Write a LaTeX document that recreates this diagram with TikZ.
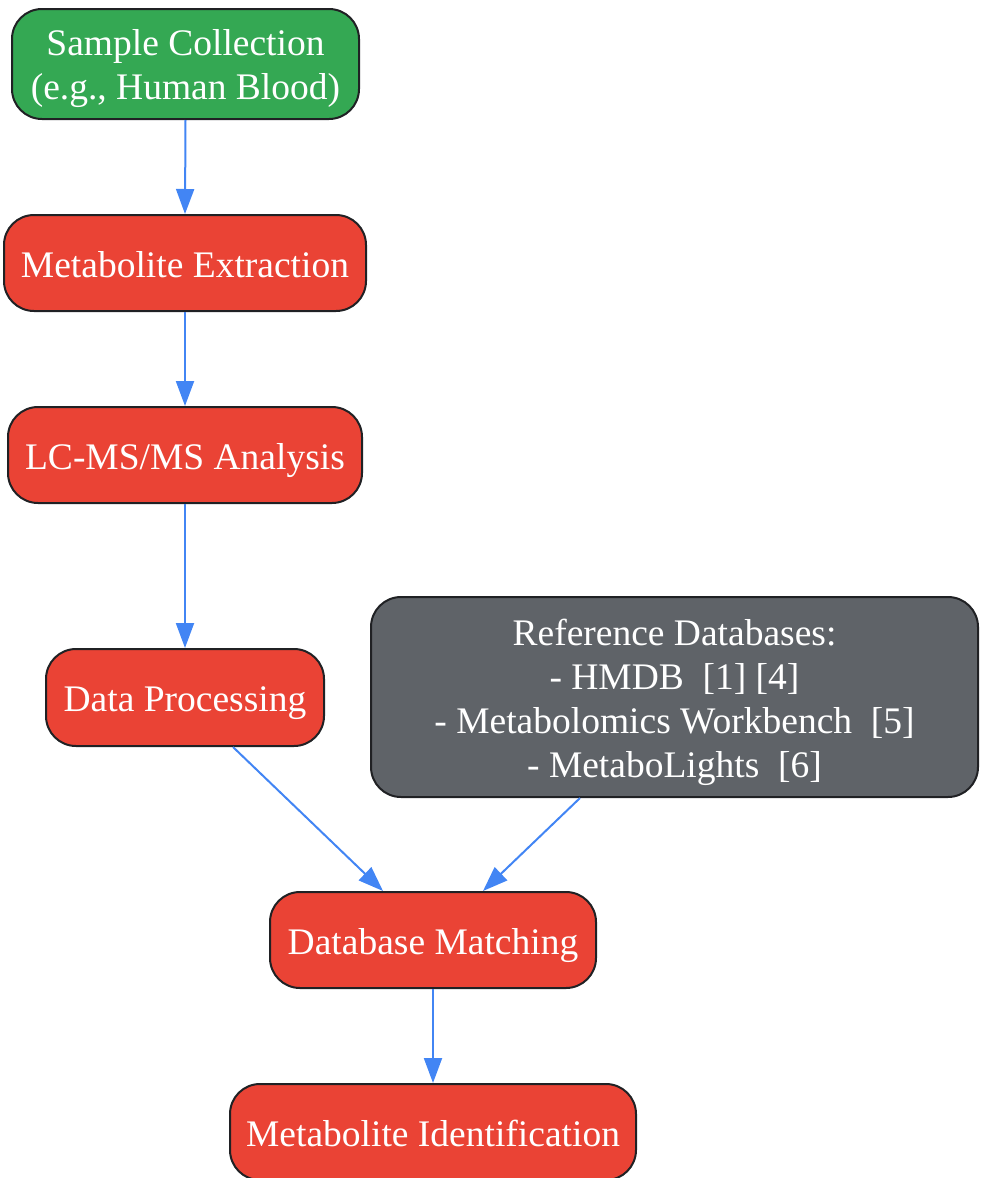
\documentclass[tikz,border=0pt]{standalone}
\usepackage{fontspec}
\setmainfont{Liberation Serif}
\usetikzlibrary{arrows.meta,calc}
\definecolor{gGreen}{HTML}{34A853}
\definecolor{gRed}{HTML}{EA4335}
\definecolor{gGray}{HTML}{5F6368}
\definecolor{gBlue}{HTML}{4285F4}
\definecolor{gBorder}{HTML}{202124}
\begin{document}
\begin{tikzpicture}[x=1pt,y=1pt,
  box/.style={draw=gBorder, line width=2pt, rounded corners=30pt, text=white,
    align=flush center, inner sep=0pt, font=\fontsize{37.5}{44}\selectfont,
    text height=28pt},
  redbox/.style={box, fill=gRed, text depth=0pt},
  flow/.style={draw=gBlue, line width=2pt, -{Triangle[length=25pt,width=18pt]}}]
\useasboundingbox (0,0) rectangle (980,-1178);
\node[box, fill=gGreen, minimum width=347pt, minimum height=110pt, text width=340pt, text depth=46pt] (sc) at (185.5,-64) {Sample Collection\\(e.g., Human Blood)};
\node[redbox, minimum width=362pt, minimum height=96pt] (me) at (185,-263) {Metabolite Extraction};
\node[redbox, minimum width=354pt, minimum height=96pt] (lc) at (185,-455) {LC-MS/MS Analysis};
\node[redbox, minimum width=278pt, minimum height=97pt] (dp) at (185,-697.5) {Data Processing};
\node[box, fill=gGray, minimum width=607pt, minimum height=200pt, text width=600pt, text depth=132pt] (rd) at (674.5,-697) {Reference Databases:\\- HMDB\ \ [1] [4]\\- Metabolomics Workbench\ \ [5]\\- MetaboLights\ \ [6]};
\node[redbox, minimum width=326pt, minimum height=96pt] (dm) at (433,-940) {Database Matching};
\node[redbox, minimum width=406pt, minimum height=96pt] (mi) at (433,-1132) {Metabolite Identification};
\draw[flow] (sc.south) -- (me.north);
\draw[flow] (me.south) -- (lc.north);
\draw[flow] (lc.south) -- (dp.north);
\draw[flow] ($(dp.south)+(48,0)$) -- ($(dm.north)+(-50,0)$);
\draw[flow] ($(rd.south)+(-94.5,0)$) -- ($(dm.north)+(50,0)$);
\draw[flow] (dm.south) -- (mi.north);
\end{tikzpicture}
\end{document}
